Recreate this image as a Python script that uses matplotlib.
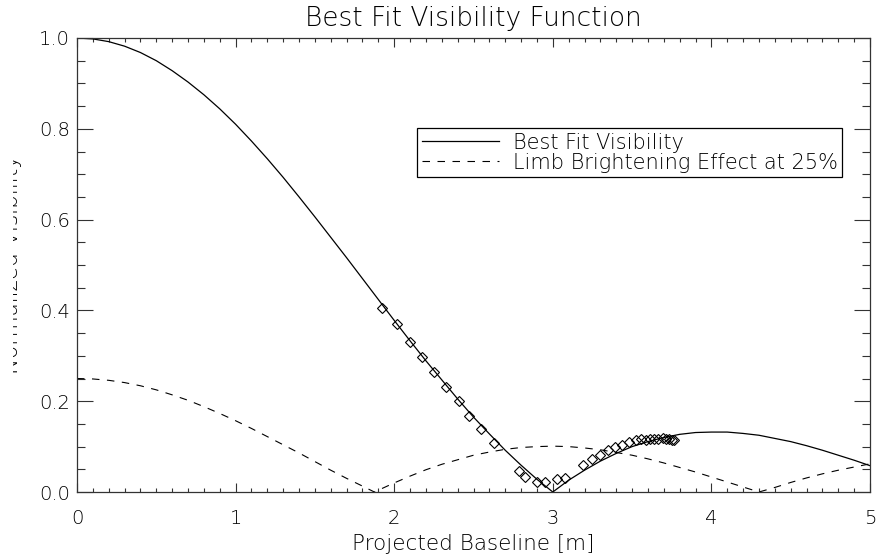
import matplotlib
matplotlib.use("Agg")
import matplotlib.pyplot as plt
from matplotlib.ticker import MultipleLocator, FormatStrFormatter
from matplotlib.transforms import Bbox

# best fit (uniform disk) visibility curve
fit_baseline = [0.0, 0.1, 0.2, 0.3, 0.4, 0.5, 0.6, 0.7, 0.8, 0.9,
                1.0, 1.1, 1.2, 1.3, 1.4, 1.5, 1.6, 1.7, 1.8, 1.9,
                2.0, 2.1, 2.2, 2.3, 2.4, 2.5, 2.6, 2.7, 2.8, 2.9,
                3.0, 3.1, 3.2, 3.3, 3.4, 3.5, 3.6, 3.7, 3.8, 3.9,
                4.0, 4.1, 4.2, 4.3, 4.4, 4.5, 4.6, 4.7, 4.8, 4.9, 5.0]
fit_vis = [1.000, 0.998, 0.992, 0.982, 0.968, 0.950, 0.928, 0.903, 0.875, 0.844,
           0.810, 0.773, 0.734, 0.693, 0.650, 0.606, 0.561, 0.516, 0.470, 0.424,
           0.378, 0.333, 0.289, 0.247, 0.205, 0.165, 0.128, 0.092, 0.059, 0.028,
           0.000, 0.026, 0.048, 0.068, 0.085, 0.100, 0.111, 0.120, 0.127, 0.131,
           0.132, 0.132, 0.129, 0.125, 0.118, 0.111, 0.102, 0.092, 0.081, 0.070, 0.058]

# limb brightening term at 25%
limb_baseline = [0.0, 0.1, 0.2, 0.3, 0.4, 0.5, 0.6, 0.7, 0.8, 0.9,
                 1.0, 1.1, 1.2, 1.3, 1.4, 1.5, 1.6, 1.7, 1.8, 1.875, 1.9,
                 2.0, 2.1, 2.2, 2.3, 2.4, 2.5, 2.6, 2.7, 2.8, 2.9,
                 3.0, 3.1, 3.2, 3.3, 3.4, 3.5, 3.6, 3.7, 3.8, 3.9,
                 4.0, 4.1, 4.2, 4.3, 4.4, 4.5, 4.6, 4.7, 4.8, 4.9, 5.0]
limb_vis = [0.250, 0.249, 0.246, 0.241, 0.234, 0.225, 0.214, 0.202, 0.188, 0.173,
            0.157, 0.140, 0.122, 0.104, 0.086, 0.067, 0.048, 0.030, 0.013, 0.000, 0.004,
            0.020, 0.035, 0.049, 0.061, 0.071, 0.081, 0.088, 0.094, 0.098, 0.100,
            0.101, 0.100, 0.097, 0.093, 0.087, 0.081, 0.073, 0.064, 0.054, 0.044,
            0.033, 0.022, 0.011, 0.000, 0.010, 0.021, 0.031, 0.040, 0.048, 0.055, 0.062]

# measured visibilities
obs_baseline = [1.923, 2.018, 2.100, 2.175, 2.251, 2.326, 2.408, 2.474, 2.547, 2.627,
                2.784, 2.822, 2.902, 2.952, 3.026, 3.074,
                3.189, 3.246, 3.296, 3.345, 3.395, 3.439, 3.482, 3.526, 3.557,
                3.589, 3.614, 3.641, 3.666, 3.693, 3.715, 3.735, 3.752, 3.767]
obs_vis = [0.406, 0.370, 0.331, 0.297, 0.265, 0.231, 0.200, 0.168, 0.138, 0.109,
           0.046, 0.032, 0.021, 0.022, 0.028, 0.031,
           0.060, 0.072, 0.082, 0.092, 0.099, 0.104, 0.110, 0.114, 0.117,
           0.115, 0.117, 0.117, 0.117, 0.119, 0.117, 0.117, 0.115, 0.114]

plt.rcParams['font.family'] = ['DejaVu Sans']
plt.rcParams['font.weight'] = 'light'
ink = 'black'
frame = '#333333'

fig = plt.figure(figsize=(8.76, 5.54), dpi=100)
ax = fig.add_axes([77/876, 62/554, 793/876, 454/554])

ax.plot(fit_baseline, fit_vis, color='black', lw=0.9, label='Best Fit Visibility')
ax.plot(limb_baseline, limb_vis, color='black', lw=0.8, dashes=(6.75, 6.75),
        label='Limb Brightening Effect at 25%')
ax.plot(obs_baseline, obs_vis, ls='none', marker='D', ms=5.2, mfc='none',
        mec='black', mew=0.8)

ax.set_xlim(0, 5)
ax.set_ylim(0, 1.0)
ax.xaxis.set_major_locator(MultipleLocator(1))
ax.xaxis.set_minor_locator(MultipleLocator(0.1))
ax.yaxis.set_major_locator(MultipleLocator(0.2))
ax.yaxis.set_minor_locator(MultipleLocator(0.05))
ax.yaxis.set_major_formatter(FormatStrFormatter('%.1f'))

ax.tick_params(which='both', direction='in', top=True, right=True,
               color=frame, width=0.8, labelsize=14, labelcolor=ink)
ax.tick_params(axis='x', which='major', length=6.5, pad=12)
ax.tick_params(axis='x', which='minor', length=3.2)
ax.tick_params(axis='y', which='major', length=11.5, pad=5)
ax.tick_params(axis='y', which='minor', length=5.7)
for sp in ax.spines.values():
    sp.set_color(frame)
    sp.set_linewidth(0.9)

ax.set_title('Best Fit Visibility Function', fontsize=19, fontweight='light',
             color=ink, pad=8.5)
fig.text(473.5/876, 4/554, 'Projected Baseline [m]', ha='center', va='baseline',
         fontsize=15.5, color=ink)

# y title sits partly outside the plot window, only its right edge shows
ylab = fig.text(18/876, 289/554, 'Normalized Visibility', rotation=90,
                rotation_mode='anchor', ha='center', va='baseline',
                fontsize=15.5, color=ink)
ylab.set_clip_box(Bbox.from_extents(13, 0, 876, 554))
ylab.set_clip_on(True)

leg = ax.legend(loc='upper right', bbox_to_anchor=(0.9647, 0.8018), borderaxespad=0,
                fontsize=15, handlelength=3.7, handletextpad=0.67,
                labelspacing=0.0, borderpad=0.22, fancybox=False,
                edgecolor='black', framealpha=1)
leg.get_frame().set_linewidth(0.9)
for t in leg.get_texts():
    t.set_color(ink)

fig.savefig('out.png', dpi=100)
